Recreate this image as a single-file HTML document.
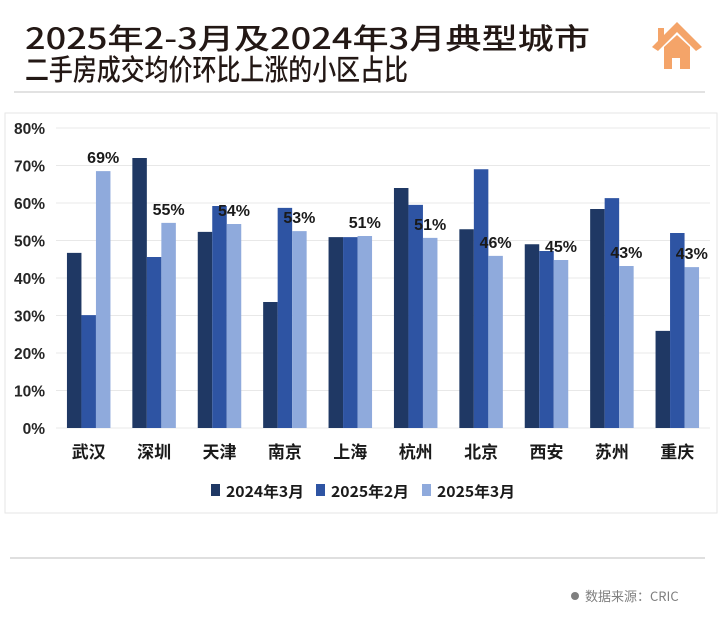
<!DOCTYPE html>
<html><head><meta charset="utf-8">
<style>
html,body{margin:0;padding:0;background:#fff;}
body{width:719px;height:624px;overflow:hidden;font-family:"Liberation Sans","Noto Sans CJK SC",sans-serif;}
</style></head>
<body>
<svg id="chart" width="719" height="624" xmlns="http://www.w3.org/2000/svg">
  <g font-family="'Noto Sans CJK SC', sans-serif" font-weight="500" fill="#231815">
    <text x="25" y="49" font-size="29" textLength="565" lengthAdjust="spacingAndGlyphs">2025年2-3月及2024年3月典型城市</text>
    <text x="25" y="80" font-size="29" textLength="383" lengthAdjust="spacingAndGlyphs">二手房成交均价环比上涨的小区占比</text>
  </g>
  <g fill="#f4a469">
    <polygon points="677,22 702,47 696,51 677,32 658,51 652,47"/>
    <rect x="658" y="28" width="6" height="14"/>
    <polygon points="664,47 677,35 690,47 690,69 664,69"/>
    <rect x="672" y="58" width="8" height="11" fill="#fff"/>
  </g>
  <line x1="14" y1="92" x2="705" y2="92" stroke="#d9d9d9" stroke-width="1.5"/>
  <rect x="5" y="113" width="712" height="400" fill="none" stroke="#e6e6e6" stroke-width="1"/>
  <g id="grid"></g>
  <g id="yaxis"></g>
  <g id="bars"></g>
  <g id="xaxis"></g>
  <g id="legend"></g>
  <line x1="10" y1="558" x2="705" y2="558" stroke="#bfbfbf" stroke-width="1"/>
  <circle cx="575" cy="596" r="4" fill="#7f7f7f"/>
  <text x="585" y="601" font-size="13" fill="#7f7f7f" font-family="'Noto Sans CJK SC', sans-serif">数据来源：CRIC</text>
</svg>
<script>
const categories = ["武汉","深圳","天津","南京","上海","杭州","北京","西安","苏州","重庆"];
const series2024Mar = [46.7,72.0,52.3,33.6,50.9,64.0,53.0,49.0,58.4,25.9];
const series2025Feb = [30.1,45.6,59.2,58.7,50.9,59.5,69.0,47.2,61.3,52.0];
const series2025Mar = [68.5,54.7,54.4,52.5,51.2,50.7,45.9,44.8,43.2,42.9];
const labels2025Mar = ["69%","55%","54%","53%","51%","51%","46%","45%","43%","43%"];
const seriesNames = ["2024年3月","2025年2月","2025年3月"];
const yTicks = [0,10,20,30,40,50,60,70,80];

const NS="http://www.w3.org/2000/svg";
const colors=["#1f3864","#2e54a3","#8faadc"];
const plotL=56, plotR=710, yBase=428, yTop=128, yMax=80;
const y = v => yBase - (v/yMax)*(yBase-yTop);
const band = (plotR-plotL)/categories.length;
const xc = i => plotL + band*(i+0.5);
const bw = 14.5;
function mk(tag, attrs, parent){const e=document.createElementNS(NS,tag);for(const k in attrs)e.setAttribute(k,attrs[k]);parent.appendChild(e);return e;}
const font="'Noto Sans CJK SC', sans-serif";
const grid=document.getElementById('grid'), yaxis=document.getElementById('yaxis');
yTicks.forEach(t=>{
  const l=mk('line',{x1:plotL,x2:plotR,y1:y(t),y2:y(t),stroke:'#e8e8e8','stroke-width':1},grid);
  
  
  const tx=mk('text',{x:45,y:y(t)+6,'font-size':15.5,'font-weight':'bold','text-anchor':'end',fill:'#262626','font-family':"'Liberation Sans',sans-serif"},yaxis);
  tx.textContent=t+'%';
  
  
});
const bars=document.getElementById('bars'), xaxis=document.getElementById('xaxis');
const allSeries=[series2024Mar,series2025Feb,series2025Mar];
categories.forEach((c,i)=>{
  allSeries.forEach((s,j)=>{
    const x0=xc(i)-1.5*bw+j*bw;
    const r=mk('rect',{x:x0,y:y(s[i]),width:bw,height:yBase-y(s[i]),fill:colors[j]},bars);
    
    
  });
  const lt=mk('text',{x:xc(i)+bw,y:y(series2025Mar[i])-8,'font-size':16,'font-weight':'bold','text-anchor':'middle',fill:'#1a1a1a','font-family':"'Liberation Sans',sans-serif"},bars);
  lt.textContent=labels2025Mar[i];
  
  
  const ct=mk('text',{x:xc(i),y:458,'font-size':17,'font-weight':'bold','text-anchor':'middle',fill:'#1a1a1a','font-family':font},xaxis);
  ct.textContent=c;
  
  
});
const legend=document.getElementById('legend');
const lx=[211,316,422];
seriesNames.forEach((n,j)=>{
  const r=mk('rect',{x:lx[j],y:484,width:9,height:12,fill:colors[j]},legend);
  
  
  const t=mk('text',{x:lx[j]+15,y:497,'font-size':15,'font-weight':'bold',fill:'#1a1a1a','font-family':font,textLength:78,lengthAdjust:'spacingAndGlyphs'},legend);
  t.textContent=n;
  
  
});
</script>
</body></html>
